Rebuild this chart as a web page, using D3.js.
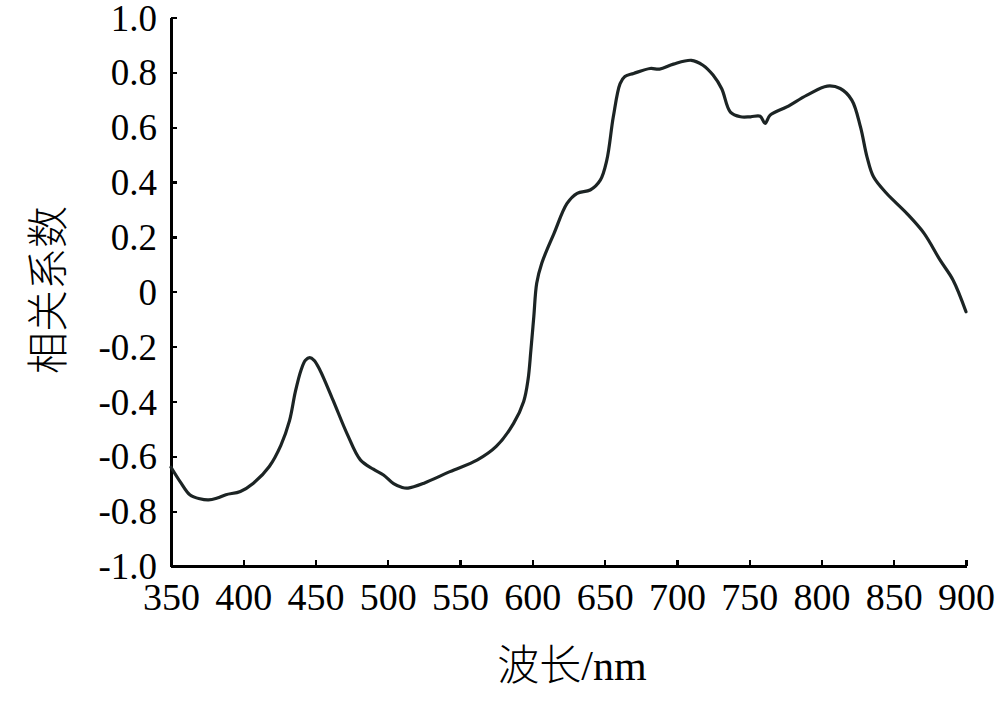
<!DOCTYPE html>
<html><head><meta charset="utf-8">
<script src="https://cdn.jsdelivr.net/npm/d3@7"></script>
<style>html,body{margin:0;padding:0;background:#fff;}</style>
</head><body>
<svg id="chart" width="1000" height="705"></svg>
<script>
const wavelength = [350,357,363,370,376,382,388,398,407,418,426,432,436,440,443,446,449,453,462,472,481,490,497,504,510,514,525,543,562,575,587,594,597,599,601,603,606.5,615,624,631,640,647,651.5,656,660.7,664,670,681.5,688,697.6,710,718,725,731,737,744,751,757.6,761,764.5,776,790,804,813,821,827,831.5,836,845,859,871,882,891,900];
const correlation = [-0.640,-0.698,-0.740,-0.755,-0.759,-0.752,-0.740,-0.728,-0.698,-0.637,-0.560,-0.470,-0.365,-0.285,-0.250,-0.240,-0.250,-0.285,-0.394,-0.520,-0.613,-0.647,-0.668,-0.700,-0.714,-0.716,-0.698,-0.656,-0.613,-0.564,-0.480,-0.400,-0.321,-0.212,-0.091,0.031,0.104,0.213,0.322,0.359,0.371,0.407,0.480,0.638,0.759,0.785,0.796,0.814,0.812,0.830,0.844,0.826,0.790,0.740,0.655,0.638,0.638,0.640,0.614,0.644,0.674,0.717,0.750,0.741,0.699,0.601,0.492,0.419,0.359,0.286,0.213,0.116,0.043,-0.073];
const xTicks = [350,400,450,500,550,600,650,700,750,800,850,900];
const yTicks = [1.0,0.8,0.6,0.4,0.2,0,-0.2,-0.4,-0.6,-0.8,-1.0];
const xLabel = "波长/nm";
const yLabel = "相关系数";

const svg = d3.select("#chart");
const x = d3.scaleLinear().domain([350,900]).range([171,966]);
const y = d3.scaleLinear().domain([-1,1]).range([566,17.5]);

const tickFont = "'Liberation Serif','Times New Roman',serif";

const xAxis = d3.axisBottom(x).tickValues(xTicks).tickSizeInner(-6).tickSizeOuter(0).tickPadding(17).tickFormat(d3.format("d"));
const gx = svg.append("g").attr("transform",`translate(0,${y(-1)})`).call(xAxis);
gx.select(".domain").attr("stroke","#000").attr("stroke-width",2.6);
gx.selectAll(".tick line").attr("stroke","#000").attr("stroke-width",2.2);
gx.selectAll(".tick text").attr("font-family",tickFont).attr("font-size",38).attr("fill","#000").attr("dy","0.7em");

const fmtY = d => d === 0 ? "0" : d.toFixed(1);
const yAxis = d3.axisLeft(y).tickValues(yTicks).tickSizeInner(-6).tickSizeOuter(0).tickPadding(14).tickFormat(fmtY);
const gy = svg.append("g").attr("transform",`translate(${x(350)},0)`).call(yAxis);
gy.select(".domain").attr("stroke","#000").attr("stroke-width",2.6);
gy.selectAll(".tick line").attr("stroke","#000").attr("stroke-width",2.2);
gy.selectAll(".tick text").attr("font-family",tickFont).attr("font-size",37).attr("fill","#000").attr("dy","0.34em");
svg.selectAll(".domain, .tick line").attr("shape-rendering","crispEdges");

const data = wavelength.map((w,i)=>({w, v: correlation[i]}));
const line = d3.line().x(d=>x(d.w)).y(d=>y(d.v)).curve(d3.curveCatmullRom.alpha(0.5));
svg.append("path").datum(data).attr("d",line).attr("fill","none")
  .attr("stroke","#1c2424").attr("stroke-width",3.2).attr("stroke-linejoin","round").attr("stroke-linecap","round");

svg.append("text").attr("x",572).attr("y",680).attr("text-anchor","middle")
  .attr("font-size",42).attr("font-weight",300).attr("fill","#000")
  .selectAll("tspan").data([{t:"波长",f:"'Noto Sans CJK SC'"},{t:"/nm",f:tickFont}]).enter().append("tspan")
  .attr("font-family",d=>d.f).text(d=>d.t);

svg.append("text").attr("transform","translate(63,290) rotate(-90)").attr("text-anchor","middle")
  .attr("font-family","'Noto Sans CJK SC',serif").attr("font-size",42).attr("font-weight",300).attr("fill","#000").text(yLabel);
</script>
</body></html>
